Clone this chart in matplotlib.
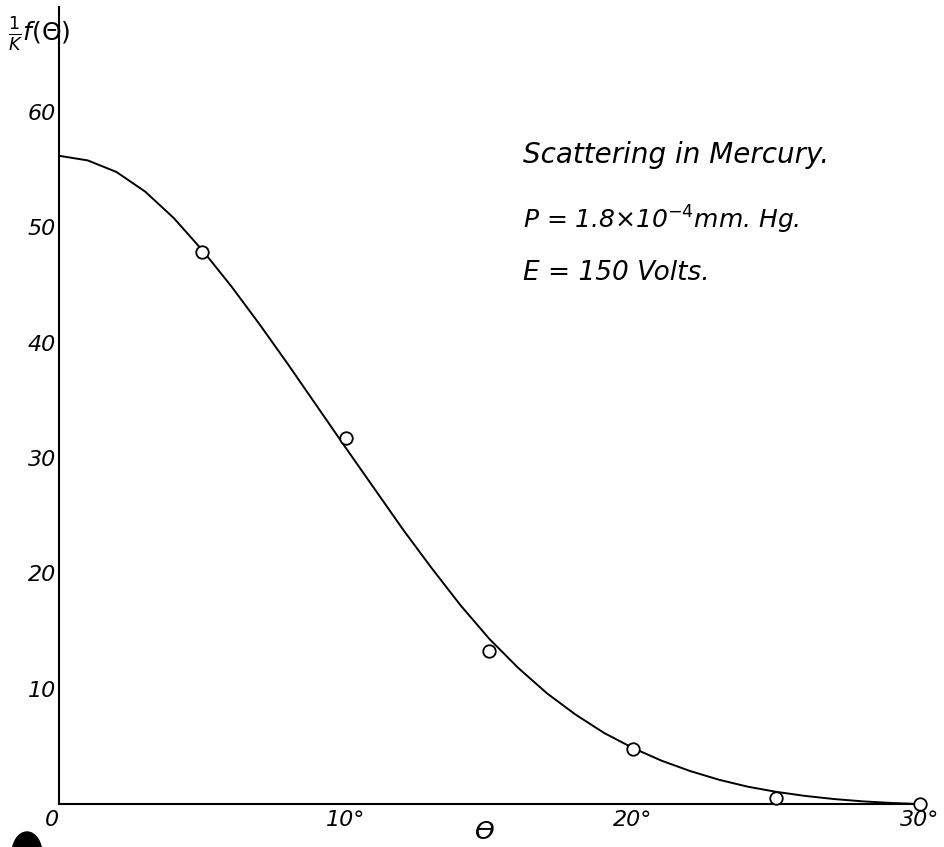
import matplotlib
matplotlib.use("Agg")
from matplotlib import pyplot as plt
from matplotlib.patches import Ellipse

curve_angle = list(range(0, 31))
curve_value = [56.2, 55.8, 54.8, 53.1, 50.8, 48.0, 44.9, 41.55, 38.05, 34.45,
               30.85, 27.3, 23.75, 20.4, 17.2, 14.3, 11.8, 9.6, 7.75, 6.15,
               4.85, 3.75, 2.85, 2.1, 1.5, 1.05, 0.7, 0.43, 0.23, 0.09, 0.0]

# measured points
angle = [5, 10, 15, 20, 25, 30]
value = [47.9, 31.7, 13.3, 4.8, 0.5, 0.0]

y_ticks = [10, 20, 30, 40, 50, 60]
x_ticks = [0, 10, 20, 30]
x_labels = ["0", "10°", "20°", "30°"]

W, H = 945, 847
fig = plt.figure(figsize=(W / 100, H / 100), dpi=100)
ax = fig.add_axes([59 / W, (H - 804) / H, (920 - 59) / W, (804 - 7) / H])

ax.plot(curve_angle, curve_value, color="black", linewidth=1.4, zorder=2)
ax.plot(angle, value, linestyle="none", marker="o", markersize=9,
        markerfacecolor="white", markeredgecolor="black", markeredgewidth=1.3,
        zorder=3, clip_on=False)

ax.set_xlim(0, 30)
ax.set_ylim(0, 69.1)
for s in ["top", "right"]:
    ax.spines[s].set_visible(False)
ax.spines["left"].set_linewidth(1.5)
ax.spines["bottom"].set_linewidth(1.5)
ax.tick_params(length=0)

ax.set_yticks(y_ticks)
ax.set_yticklabels([str(t) for t in y_ticks], fontsize=16, style="italic")
ax.tick_params(axis="y", pad=2)
ax.set_xticks(x_ticks)
ax.set_xticklabels(x_labels, fontsize=16, style="italic")
ax.tick_params(axis="x", pad=4)
ax.get_xticklabels()[0].set_horizontalalignment("right")

# axis titles
fig.text(8 / W, 1 - 34 / H, r"$\frac{1}{K}f(\Theta)$", fontsize=18,
         ha="left", va="center")
fig.text(485 / W, 1 - 832 / H, "ϴ", fontsize=18, style="italic",
         ha="center", va="center")

# notes
fig.text(523 / W, 1 - 155 / H, "Scattering in Mercury.", fontsize=20,
         style="italic", ha="left", va="center")
fig.text(523 / W, 1 - 220 / H, r"P = 1.8×10$^{-4}$mm. Hg.", fontsize=18,
         style="italic", ha="left", va="center")
fig.text(523 / W, 1 - 273 / H, "E = 150 Volts.", fontsize=19,
         style="italic", ha="left", va="center")

# dark scan mark in the corner
fig.patches.append(Ellipse((27 / W, 1 - 854 / H), 30 / W, 44 / H,
                           transform=fig.transFigure, color="black"))

fig.savefig("out.png", dpi=100)
